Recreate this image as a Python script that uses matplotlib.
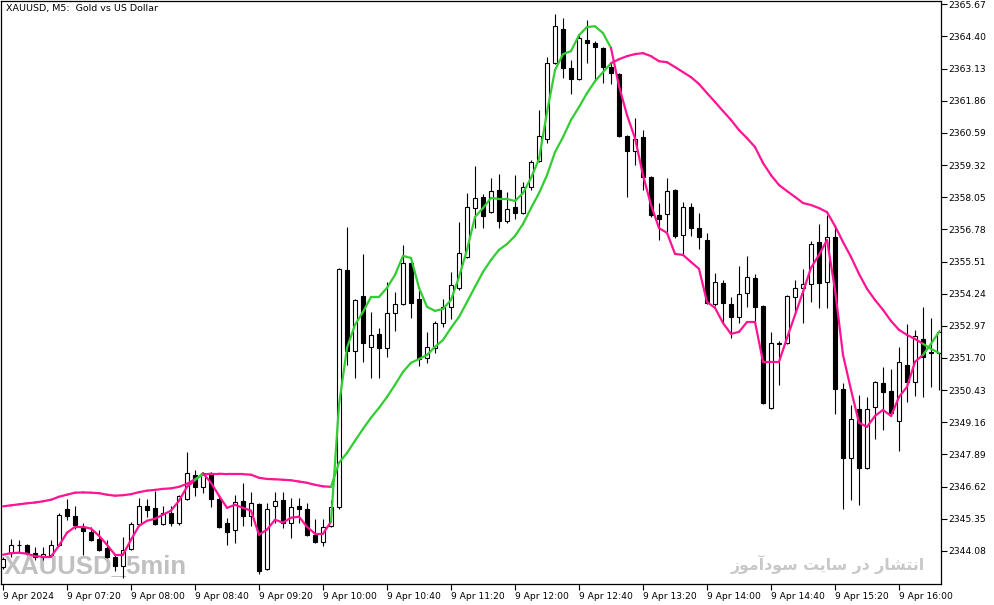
import numpy as np
import matplotlib
matplotlib.use('Agg')
import matplotlib.pyplot as plt
from matplotlib.patches import Rectangle
from matplotlib.collections import LineCollection

#############################
######  chart values   ######
#############################

# XAUUSD M5, 9 Apr 2024, bars from 06:40 to 16:25
opens = [
    2343.44, 2344.01, 2344.32, 2344.32, 2344.00, 2343.84, 2343.92, 2344.32, 2345.72, 2345.44,
    2345.04, 2344.84, 2344.56, 2344.20, 2343.84, 2343.48, 2344.16, 2345.16, 2345.84, 2345.76,
    2345.16, 2345.56, 2345.20, 2346.13, 2347.09, 2346.61, 2347.17, 2346.13, 2345.19, 2344.91,
    2346.07, 2345.47, 2345.95, 2343.36, 2345.87, 2346.11, 2345.19, 2345.87, 2345.75, 2344.71,
    2344.43, 2345.07, 2345.83, 2355.18, 2351.98, 2354.15, 2352.14, 2352.65, 2352.10, 2353.48,
    2353.83, 2355.45, 2354.03, 2351.70, 2352.10, 2353.08, 2353.72, 2354.47, 2355.69, 2357.62,
    2358.06, 2357.46, 2358.33, 2357.11, 2357.66, 2357.42, 2358.45, 2359.48, 2360.34, 2363.34,
    2364.69, 2363.15, 2362.71, 2364.25, 2364.13, 2363.94, 2363.19, 2362.91, 2360.46, 2359.87,
    2360.42, 2358.85, 2357.35, 2357.39, 2358.33, 2356.56, 2357.66, 2356.83, 2356.36, 2353.83,
    2354.66, 2353.83, 2353.32, 2354.27, 2354.86, 2353.76, 2349.73, 2352.26, 2352.30, 2354.11,
    2354.47, 2354.62, 2356.28, 2354.70, 2356.48, 2350.48, 2347.76, 2349.69, 2347.36, 2349.77,
    2350.72, 2350.40, 2349.22, 2351.43, 2350.76, 2352.45, 2351.94, 2351.90,
]
highs = [
    2343.84, 2344.56, 2344.52, 2344.36, 2344.24, 2344.24, 2344.52, 2345.56, 2346.12, 2345.84,
    2345.20, 2345.04, 2344.92, 2344.52, 2343.92, 2344.64, 2345.24, 2346.16, 2346.12, 2346.44,
    2345.84, 2345.84, 2346.28, 2347.97, 2347.29, 2347.21, 2347.21, 2346.29, 2345.39, 2346.29,
    2346.77, 2346.41, 2345.99, 2345.99, 2346.41, 2346.41, 2346.17, 2346.17, 2345.99, 2345.35,
    2345.35, 2346.11, 2355.25, 2356.87, 2354.03, 2355.81, 2353.52, 2352.89, 2354.70, 2354.31,
    2356.16, 2355.49, 2354.39, 2352.73, 2353.16, 2354.03, 2355.10, 2357.07, 2358.21, 2359.28,
    2358.17, 2358.81, 2358.96, 2358.25, 2358.92, 2358.65, 2359.52, 2361.49, 2363.58, 2365.28,
    2365.12, 2363.46, 2364.45, 2365.04, 2364.21, 2363.98, 2363.38, 2362.95, 2360.50, 2361.17,
    2360.70, 2358.89, 2357.82, 2358.81, 2358.37, 2357.86, 2357.82, 2357.42, 2356.64, 2355.06,
    2354.78, 2354.11, 2355.33, 2355.73, 2355.02, 2353.80, 2352.73, 2352.37, 2354.19, 2354.78,
    2355.22, 2356.32, 2356.99, 2357.35, 2356.95, 2350.72, 2349.85, 2350.24, 2350.16, 2350.80,
    2351.35, 2351.27, 2352.14, 2353.04, 2352.81, 2353.72, 2353.28, 2352.81,
]
lows = [
    2343.36, 2343.84, 2344.00, 2343.92, 2343.72, 2343.72, 2343.88, 2344.28, 2345.32, 2344.96,
    2343.92, 2344.48, 2344.08, 2343.80, 2343.28, 2343.00, 2344.12, 2345.12, 2345.40, 2345.12,
    2345.12, 2345.08, 2345.12, 2346.09, 2346.25, 2346.37, 2345.81, 2344.99, 2344.31, 2344.39,
    2345.07, 2345.07, 2343.16, 2343.32, 2345.19, 2344.99, 2344.59, 2345.19, 2344.67, 2344.39,
    2344.27, 2345.03, 2345.75, 2351.43, 2350.91, 2351.55, 2350.91, 2350.91, 2351.74, 2352.77,
    2353.79, 2353.28, 2351.39, 2351.51, 2351.90, 2352.93, 2353.24, 2354.39, 2355.65, 2356.83,
    2356.83, 2357.42, 2356.83, 2357.03, 2357.19, 2357.39, 2358.33, 2359.44, 2360.19, 2363.30,
    2362.75, 2362.12, 2362.67, 2363.34, 2362.67, 2362.55, 2362.52, 2360.42, 2358.06, 2359.32,
    2358.33, 2357.27, 2356.36, 2356.68, 2356.44, 2355.81, 2356.52, 2356.00, 2353.83, 2353.76,
    2353.08, 2352.49, 2353.08, 2353.72, 2353.12, 2349.89, 2349.69, 2350.64, 2352.26, 2353.48,
    2353.08, 2353.91, 2353.68, 2353.68, 2349.49, 2345.75, 2346.10, 2345.90, 2347.32, 2348.51,
    2348.86, 2349.41, 2348.03, 2349.97, 2350.20, 2350.16, 2350.56, 2350.44,
]
closes = [
    2343.76, 2344.31, 2344.30, 2344.00, 2343.84, 2343.96, 2344.32, 2345.48, 2345.44, 2345.12,
    2344.88, 2344.52, 2344.12, 2343.84, 2343.48, 2344.12, 2345.16, 2345.84, 2345.68, 2345.16,
    2345.56, 2345.20, 2346.24, 2347.17, 2346.61, 2347.17, 2346.13, 2345.03, 2344.83, 2346.03,
    2345.47, 2345.99, 2343.28, 2345.75, 2346.07, 2345.19, 2345.83, 2345.75, 2344.71, 2344.43,
    2345.03, 2345.83, 2355.21, 2351.98, 2353.99, 2352.30, 2352.61, 2352.10, 2353.48, 2353.83,
    2355.45, 2353.87, 2351.66, 2352.14, 2353.08, 2353.72, 2354.58, 2355.85, 2357.66, 2358.02,
    2357.31, 2358.29, 2357.11, 2357.58, 2357.42, 2358.45, 2359.44, 2360.46, 2363.34, 2364.80,
    2363.15, 2362.71, 2364.33, 2364.13, 2363.98, 2363.19, 2362.95, 2360.46, 2359.87, 2360.34,
    2358.85, 2357.35, 2357.19, 2358.29, 2356.52, 2357.66, 2356.83, 2356.48, 2353.87, 2354.70,
    2353.87, 2353.32, 2354.23, 2354.90, 2353.72, 2349.93, 2352.30, 2352.30, 2354.15, 2354.47,
    2354.62, 2356.20, 2354.66, 2356.48, 2350.48, 2347.76, 2349.30, 2347.36, 2349.69, 2350.76,
    2350.36, 2349.53, 2351.55, 2350.76, 2352.57, 2351.74, 2351.90, 2352.73,
]

# the two moving average lines as drawn on the chart
fast_ma = [
    2343.93, 2343.99, 2344.01, 2343.97, 2343.87, 2343.85, 2343.85, 2344.29, 2344.80, 2345.03,
    2345.03, 2344.96, 2344.68, 2344.32, 2343.93, 2343.93, 2344.52, 2345.07, 2345.27, 2345.35,
    2345.51, 2345.67, 2346.06, 2346.61, 2346.87, 2347.15, 2346.77, 2346.26, 2345.78, 2345.90,
    2345.78, 2345.67, 2344.72, 2344.92, 2345.31, 2345.20, 2345.39, 2345.43, 2345.03, 2344.76,
    2344.76, 2345.23, 2349.85, 2352.10, 2353.01, 2353.52, 2354.11, 2354.11, 2354.47, 2354.98,
    2355.73, 2355.65, 2354.47, 2353.72, 2353.56, 2353.64, 2353.99, 2354.90, 2355.97, 2357.27,
    2357.62, 2358.02, 2357.98, 2357.98, 2357.90, 2358.21, 2358.81, 2359.56, 2361.41, 2363.07,
    2363.70, 2363.82, 2364.45, 2364.77, 2364.80, 2364.53, 2363.94, 2362.44, 2361.29, 2360.38,
    2358.92, 2357.74, 2356.83, 2356.64, 2355.81, 2355.77, 2355.49, 2355.22, 2353.91, 2353.68,
    2353.08, 2352.65, 2352.73, 2353.12, 2353.12, 2351.55, 2351.55, 2351.55, 2352.49, 2353.40,
    2354.31, 2355.26, 2355.77, 2356.36, 2354.39, 2351.82, 2350.44, 2349.14, 2348.98, 2349.41,
    2349.65, 2349.41, 2350.16, 2350.56, 2351.55, 2351.82, 2352.26, 2352.73,
]
slow_ma = [
    2345.84, 2345.88, 2345.92, 2345.96, 2345.99, 2346.04, 2346.10, 2346.22, 2346.30, 2346.38,
    2346.39, 2346.38, 2346.36, 2346.30, 2346.26, 2346.28, 2346.32, 2346.40, 2346.46, 2346.49,
    2346.53, 2346.55, 2346.61, 2346.73, 2346.91, 2347.09, 2347.13, 2347.13, 2347.11, 2347.11,
    2347.11, 2347.09, 2346.97, 2346.92, 2346.91, 2346.89, 2346.87, 2346.82, 2346.77, 2346.69,
    2346.63, 2346.61, 2347.56, 2347.95, 2348.43, 2348.90, 2349.34, 2349.73, 2350.16, 2350.64,
    2351.15, 2351.51, 2351.66, 2351.82, 2352.14, 2352.41, 2352.89, 2353.32, 2353.91, 2354.51,
    2355.10, 2355.57, 2355.97, 2356.20, 2356.52, 2356.99, 2357.62, 2358.21, 2358.92, 2359.83,
    2360.42, 2361.10, 2361.61, 2362.16, 2362.63, 2362.99, 2363.34, 2363.50, 2363.62, 2363.70,
    2363.74, 2363.62, 2363.42, 2363.38, 2363.19, 2362.99, 2362.79, 2362.52, 2362.16, 2361.81,
    2361.45, 2361.10, 2360.70, 2360.38, 2360.03, 2359.40, 2358.92, 2358.53, 2358.29, 2358.06,
    2357.82, 2357.74, 2357.62, 2357.46, 2356.91, 2356.28, 2355.69, 2355.02, 2354.43, 2353.99,
    2353.60, 2353.16, 2352.81, 2352.61, 2352.45, 2352.26, 2352.06, 2351.90,
]

price_ticks = [2365.67, 2364.40, 2363.13, 2361.86, 2360.59, 2359.32, 2358.05, 2356.78, 2355.51,
               2354.24, 2352.97, 2351.70, 2350.43, 2349.16, 2347.89, 2346.62, 2345.35, 2344.08]
time_labels = ['9 Apr 2024', '9 Apr 07:20', '9 Apr 08:00', '9 Apr 08:40', '9 Apr 09:20',
               '9 Apr 10:00', '9 Apr 10:40', '9 Apr 11:20', '9 Apr 12:00', '9 Apr 12:40',
               '9 Apr 13:20', '9 Apr 14:00', '9 Apr 14:40', '9 Apr 15:20', '9 Apr 16:00']
title = 'XAUUSD, M5:  Gold vs US Dollar'
watermark = 'XAUUSD_5min'
# "انتشار در سایت سودآموز" - matplotlib does not join arabic letters,
# so the joined (presentation) forms are written out, then put in visual order
fa_joined = ('\ufe8d\ufee7\ufe98\ufeb8\ufe8e\ufead \ufea9\ufead '
             '\ufeb3\ufe8e\ufef3\ufe96 \ufeb3\ufeee\ufea9\ufe81\ufee3\ufeee\ufeaf')
fa_watermark = fa_joined[::-1]

up_col = '#32CD32'
down_col = '#FF1493'

#############################
######      plot       ######
#############################

n = len(opens)
x = np.arange(n)

fig = plt.figure(figsize=(9.94, 6.05), dpi=100)
ax = fig.add_axes([0.001, 0.035, 0.9457, 0.963])

body_w = 0.55
for i in range(n):
    o, h, l, c = opens[i], highs[i], lows[i], closes[i]
    ax.vlines(x[i], l, h, color='black', lw=0.8, zorder=2)
    bottom = min(o, c)
    height = max(abs(c - o), 0.02)
    face = 'white' if c >= o else 'black'
    ax.add_patch(Rectangle((x[i] - body_w / 2, bottom), body_w, height,
                           facecolor=face, edgecolor='black', lw=0.8, zorder=3))

# colour of each segment follows which average is on top
fast = np.array(fast_ma)
slow = np.array(slow_ma)
cols = [up_col if fast[i + 1] > slow[i + 1] else down_col for i in range(n - 1)]
for line in (slow, fast):
    segs = [[(x[i], line[i]), (x[i + 1], line[i + 1])] for i in range(n - 1)]
    ax.add_collection(LineCollection(segs, colors=cols, linewidths=1.6, zorder=4,
                                     capstyle='round', joinstyle='round'))

ax.set_xlim(-0.25, n - 0.75)
ax.set_ylim(2342.78, 2365.79)

ax.yaxis.tick_right()
ax.set_yticks(price_ticks)
ax.set_yticklabels(['%.2f' % p for p in price_ticks])
ax.set_xticks(x[::8][:len(time_labels)])
ax.set_xticklabels(time_labels)
for lab in ax.get_xticklabels():
    lab.set_horizontalalignment('left')
ax.tick_params(axis='both', direction='out', length=4, width=0.8, labelsize=6.6, pad=2)
ax.tick_params(axis='y', pad=1)
for s in ax.spines.values():
    s.set_linewidth(0.9)

ax.text(0.005, 0.996, title, transform=ax.transAxes, fontsize=6.8, va='top', ha='left')
ax.text(0.003, 0.019, watermark, transform=ax.transAxes, fontsize=18.5, fontweight='bold',
        family='Liberation Sans', color='#c0c0c0', va='baseline', ha='left', zorder=1)
ax.text(0.983, 0.024, fa_watermark, transform=ax.transAxes, fontsize=11.3, fontweight='bold',
        family='DejaVu Sans', color='#c8c8c8', va='baseline', ha='right', zorder=1)

fig.savefig('out.png', dpi=100)
